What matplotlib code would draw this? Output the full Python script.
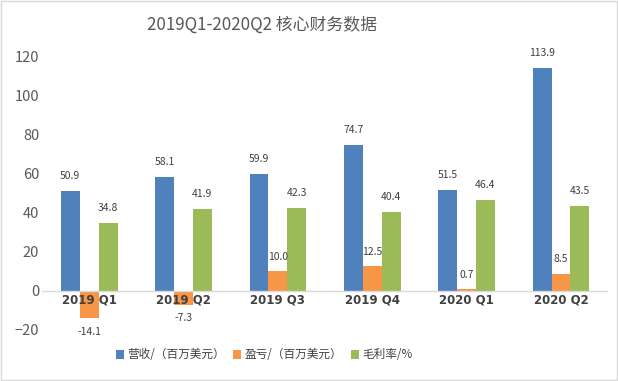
import numpy as np
import matplotlib.pyplot as plt
from matplotlib.patches import Rectangle
from matplotlib.transforms import offset_copy

plt.rcParams['font.family'] = ['Noto Sans CJK SC', 'DejaVu Sans']

quarters = ['2019 Q1', '2019 Q2', '2019 Q3', '2019 Q4', '2020 Q1', '2020 Q2']
revenue = [50.9, 58.1, 59.9, 74.7, 51.5, 113.9]
profit = [-14.1, -7.3, 10.0, 12.5, 0.7, 8.5]
margin = [34.8, 41.9, 42.3, 40.4, 46.4, 43.5]
series = ['营收/（百万美元）', '盈亏/（百万美元）', '毛利率/%']
colors = ['#4F81BD', '#F79646', '#9BBB59']

fig = plt.figure(figsize=(6.18, 3.81), dpi=100)
ax = fig.add_axes([0.068, 0.134, 0.916, 0.719])
fig.patches.append(Rectangle((0.002, 0.003), 0.996, 0.994, transform=fig.transFigure,
                             fill=False, edgecolor='#D9D9D9', linewidth=1))

x = np.arange(len(quarters))
w = 0.2
for i, (vals, c, name) in enumerate(zip([revenue, profit, margin], colors, series)):
    bars = ax.bar(x + (i - 1) * w, vals, w, color=c, label=name)
    for b, v in zip(bars, vals):
        off = 7 if v >= 0 else -6
        ax.annotate(f'{v:.1f}', (b.get_x() + b.get_width() / 2, v),
                    xytext=(0, off), textcoords='offset points',
                    ha='center', va='bottom' if v >= 0 else 'top',
                    fontsize=7.5, color='#404040')

ax.set_xlim(-0.5, len(quarters) - 0.5)
ax.set_ylim(-20, 120)
ax.set_yticks(range(-20, 121, 20))
ax.tick_params(axis='y', length=0, labelsize=10.5, labelcolor='#595959', pad=2)
ax.set_xticks([])
for s in ['top', 'right', 'left', 'bottom']:
    ax.spines[s].set_visible(False)
ax.axhline(0, color='#D9D9D9', linewidth=1)

tr = offset_copy(ax.transData, fig=fig, x=0, y=-2, units='points')
for xi, q in zip(x, quarters):
    ax.text(xi, 0, q, transform=tr, ha='center', va='top', fontsize=8.5,
            fontweight='bold', color='#404040', family='DejaVu Sans')

fig.text(0.424, 0.935, '2019Q1-2020Q2 核心财务数据', ha='center', va='center',
         fontsize=12.2, color='#595959')
ax.legend(loc='center', bbox_to_anchor=(264 / 618, 26 / 381), bbox_transform=fig.transFigure,
          ncol=3, frameon=False,
          fontsize=8.4, handlelength=0.7, handleheight=0.7, handletextpad=0.3,
          columnspacing=0.7, labelcolor='#404040')

fig.savefig('out.png', dpi=100)
